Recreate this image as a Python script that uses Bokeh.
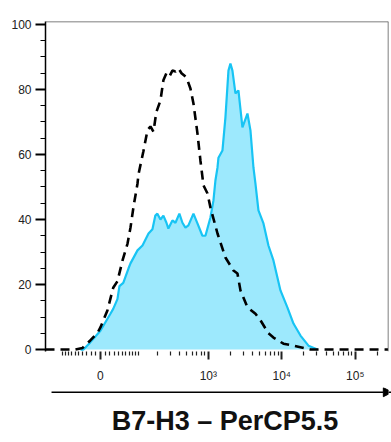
import numpy as np
from bokeh.plotting import figure
from bokeh.layouts import column
from bokeh.models import (Range1d, FixedTicker, CustomJSTickFormatter, Span,
                          Arrow, NormalHead, Label)
from bokeh.embed import file_html
from bokeh.resources import INLINE

# ---------------- data (fluorescence intensity vs % of max) ----------------
stained_x = [-45, -38, -22, 0, 22, 28, 38, 43, 53, 68, 74, 98, 118, 146, 167,
             184, 197, 218, 240, 265, 282, 321, 354, 401, 442, 486, 534, 626,
             710, 830, 913, 1068, 1173, 1249, 1333, 1374, 1557, 1710, 1880,
             2000, 2130, 2340, 2570, 2914, 3410, 3747, 4115, 4382, 4814, 5633,
             6583, 7700, 9597, 11954, 14427, 17971, 23073, 30634]
stained_y = [0, 0, 2.2, 5.8, 11.1, 12.5, 15.5, 19.5, 20.5, 25, 26.5, 30.5, 32,
             35.7, 37, 41.2, 41.8, 40, 41.2, 39, 37.2, 39.7, 39, 41.8, 39, 37.5,
             38.2, 41.8, 38.8, 35, 35, 40.6, 45.8, 52, 56, 59, 61.2, 71.4, 85.8,
             88, 85.8, 78.8, 79.7, 68.3, 72.6, 67.4, 56, 51, 42.8, 38.8, 32,
             27.4, 18.2, 12.9, 8, 4.3, 1.2, 0]

control_x = [-184, -59, -40, -22, -6, 0, 15, 28, 38, 51, 65, 74, 84, 98, 102,
             122, 141, 156, 173, 190, 218, 240, 265, 292, 321, 354, 390, 429,
             502, 569, 626, 710, 781, 858, 974, 1068, 1333, 1710, 2199, 2493,
             2739, 3410, 4382, 5127, 6583, 7700, 10540, 14427, 24550, 280000]
control_y = [0, 0, 0.5, 2.8, 5.2, 6.8, 12, 19, 21, 27.4, 32.6, 37.5, 44, 51, 54,
             61, 67.5, 68.6, 67, 73, 76.6, 82.8, 85, 84, 85.8, 85.5, 86.5, 85,
             83.7, 80.3, 75.7, 66.5, 58, 50.5, 48, 43.7, 35.7, 28.3, 24.3, 23.4,
             18.2, 13, 11, 9, 5, 3.7, 1.8, 1.2, 0, 0]

x_major_values = [0, 1000, 10000, 100000]
x_major_labels = ["0", "10\u00b3", "10\u2074", "10\u2075"]
y_major_values = [0, 20, 40, 60, 80, 100]
x_label = "B7-H3 \u2013 PerCP5.5"

# ---------------- biexponential-like display transform ----------------
W = 68.0


def tr(v):
    return np.arcsinh(np.asarray(v, dtype=float) / W)


x_min_val, x_max_val = -184.0, 283600.0
xr = Range1d(float(tr(x_min_val)), float(tr(x_max_val)))
yr = Range1d(-0.6, 100.9)

p = figure(width=391, height=387, x_range=xr, y_range=yr,
           output_backend="svg", toolbar_location=None,
           min_border_left=45, min_border_top=21, min_border_right=3,
           min_border_bottom=36, outline_line_color=None,
           background_fill_color="white", border_fill_color="white")
p.xgrid.visible = False
p.ygrid.visible = False

# stained histogram (filled)
sx = tr(stained_x)
p.varea(x=sx, y1=0, y2=stained_y, fill_color="#9DE9FD", fill_alpha=1.0)
p.line(sx, stained_y, line_color="#18C4F4", line_width=2.2)

# isotype control (dashed)
p.line(tr(control_x), control_y, line_color="black", line_width=2.6,
       line_dash="9 6")

# ---------------- axes ----------------
minor_vals = ([-v for v in range(10, 100, 10)] + [-100]
              + list(range(10, 100, 10)) + [100]
              + list(range(200, 1000, 100)) + list(range(2000, 10000, 1000))
              + list(range(20000, 100000, 10000)) + [200000])
major_u = [float(t) for t in tr(x_major_values)]
minor_u = [float(t) for t in tr(minor_vals)]

p.xaxis.ticker = FixedTicker(ticks=major_u, minor_ticks=minor_u)
p.xaxis.formatter = CustomJSTickFormatter(
    args=dict(pos=major_u, labs=x_major_labels),
    code="""
    for (let i = 0; i < pos.length; i++) {
        if (Math.abs(tick - pos[i]) < 1e-6) { return labs[i]; }
    }
    return "";
    """)
p.xaxis.axis_line_color = None
p.xaxis.major_tick_in = 0
p.xaxis.major_tick_out = 8
p.xaxis.minor_tick_in = 0
p.xaxis.minor_tick_out = 4
p.xaxis.major_tick_line_width = 2
p.xaxis.minor_tick_line_width = 1.2
p.xaxis.major_tick_line_color = "#222222"
p.xaxis.minor_tick_line_color = "#222222"
p.xaxis.major_label_text_font = "Liberation Sans"
p.xaxis.major_label_text_font_size = "12px"
p.xaxis.major_label_text_color = "#222222"
p.xaxis.major_label_standoff = 9

p.yaxis.ticker = FixedTicker(ticks=y_major_values,
                             minor_ticks=[v for v in range(5, 100, 5)
                                          if v % 20 != 0])
p.yaxis.axis_line_color = "black"
p.yaxis.axis_line_width = 1.5
p.yaxis.major_tick_in = 0
p.yaxis.major_tick_out = 10
p.yaxis.minor_tick_in = 0
p.yaxis.minor_tick_out = 5
p.yaxis.major_tick_line_width = 2
p.yaxis.minor_tick_line_width = 1.2
p.yaxis.major_label_text_font = "Liberation Sans"
p.yaxis.major_label_text_font_size = "12px"
p.yaxis.major_label_text_color = "#222222"
p.yaxis.major_label_standoff = 4

# top and right frame lines
p.add_layout(Span(location=yr.end, dimension="width", line_color="#555555",
                  line_width=1.5))
p.add_layout(Span(location=xr.end, dimension="height", line_color="#555555",
                  line_width=1.5))

# ---------------- strip below: direction arrow + axis title ----------------
p2 = figure(width=391, height=55, x_range=xr, y_range=Range1d(55, 0),
            x_axis_type=None, y_axis_type=None,
            output_backend="svg", toolbar_location=None,
            min_border_left=45, min_border_right=3, min_border_top=0,
            min_border_bottom=0, outline_line_color=None,
            background_fill_color="white", border_fill_color="white")
p2.xgrid.visible = False
p2.ygrid.visible = False

p2.add_layout(Arrow(end=NormalHead(size=9, fill_color="black",
                                   line_color="black"),
                    x_start=float(tr(-150)), y_start=4.7,
                    x_end=float(xr.end) + 0.12, y_end=4.7,
                    line_color="black", line_width=1.5))

x_center = 0.5 * (xr.start + xr.end) + 0.25
p2.add_layout(Label(x=x_center, y=33, text=x_label, text_align="center",
                    text_baseline="middle", text_font="Liberation Sans",
                    text_font_style="bold", text_font_size="27px",
                    text_color="#111111"))

layout = column(p, p2, spacing=0)
open("out.html", "w").write(file_html(layout, INLINE))
